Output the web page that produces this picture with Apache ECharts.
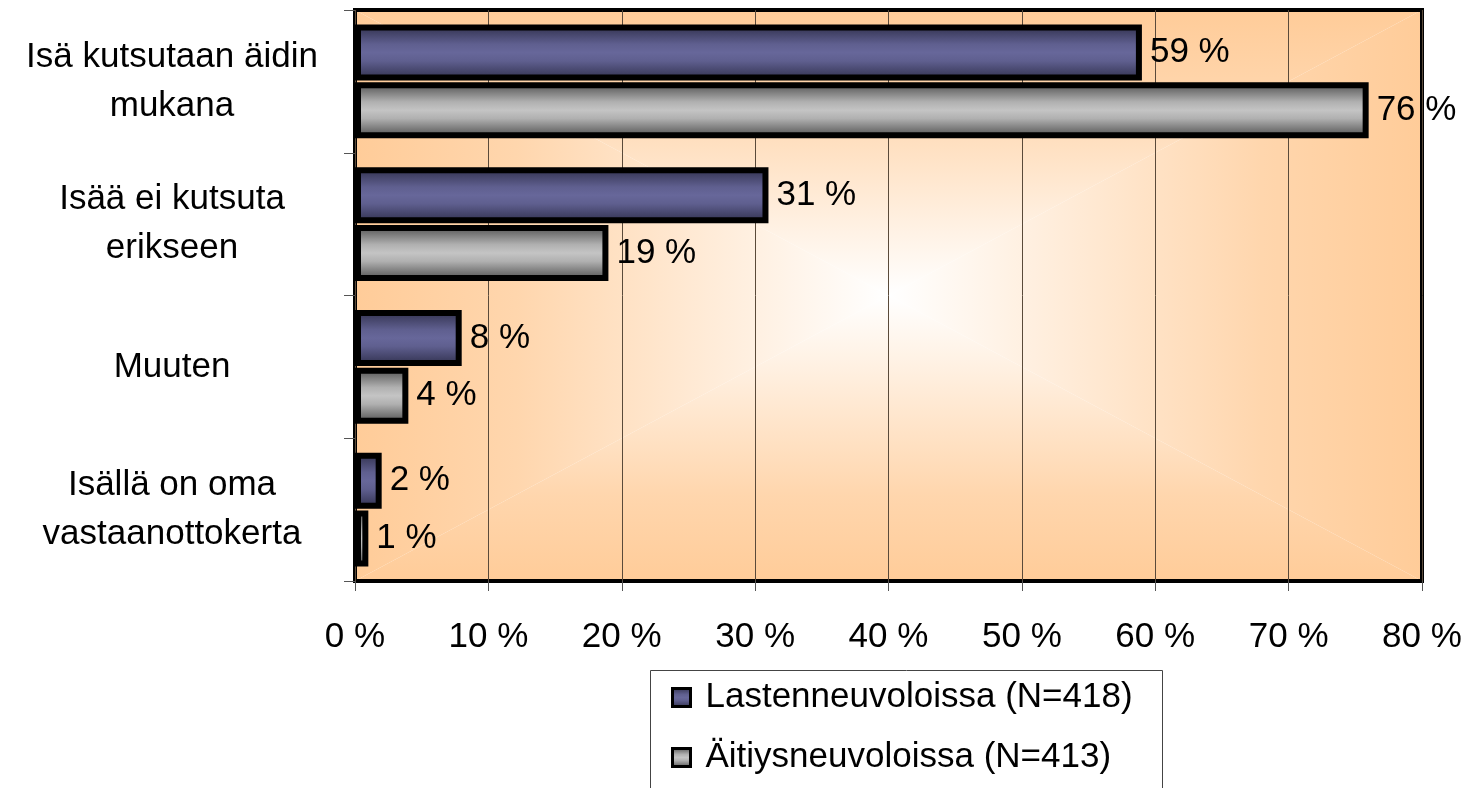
<!DOCTYPE html>
<html>
<head>
<meta charset="utf-8">
<script src="https://cdn.jsdelivr.net/npm/echarts@6/dist/echarts.min.js"></script>
<style>
html,body{margin:0;padding:0;background:#fff;}
#c{width:1466px;height:788px;}
</style>
</head>
<body>
<div id="c"></div>
<script>
const categories = ['Isä kutsutaan äidin\nmukana', 'Isää ei kutsuta\nerikseen', 'Muuten', 'Isällä on oma\nvastaanottokerta'];
const seriesNames = ['Lastenneuvoloissa (N=418)', 'Äitiysneuvoloissa (N=413)'];
const lastenValues = [59, 31, 8, 2];
const aitiysValues = [76, 19, 4, 1];
const xTicks = [0, 10, 20, 30, 40, 50, 60, 70, 80];

const chart = echarts.init(document.getElementById('c'));
const W = chart.getWidth(), H = chart.getHeight();
const gl = 355, gt = 10, gr = 44, gb = 207;
const x0 = gl, x1 = W - gr, y0 = gt, y1 = H - gb;
const cx = (x0 + x1) / 2, cy = (y0 + y1) / 2;
const ORANGE = '#FFCC99';
function grad(ax, ay, bx, by) {
  return new echarts.graphic.LinearGradient(ax, ay, bx, by, [
    {offset: 0, color: ORANGE},
    {offset: 0.3, color: '#FFD6AD'},
    {offset: 1, color: '#FFFFFF'}
  ], true);
}
const legendBox = {left: 650, top: 670, width: 512};
const bg = [
  {type: 'polygon', z: -10, silent: true, shape: {points: [[x0, y0], [x1, y0], [cx, cy]]}, style: {fill: grad(cx, y0, cx, cy)}},
  {type: 'polygon', z: -10, silent: true, shape: {points: [[x0, y1], [x1, y1], [cx, cy]]}, style: {fill: grad(cx, y1, cx, cy)}},
  {type: 'polygon', z: -10, silent: true, shape: {points: [[x0, y0], [x0, y1], [cx, cy]]}, style: {fill: grad(x0, cy, cx, cy)}},
  {type: 'polygon', z: -10, silent: true, shape: {points: [[x1, y0], [x1, y1], [cx, cy]]}, style: {fill: grad(x1, cy, cx, cy)}},
  {type: 'rect', z: -5, silent: true,
   shape: {x: legendBox.left + 0.5, y: legendBox.top + 0.5, width: legendBox.width, height: H},
   style: {fill: 'none', stroke: '#444', lineWidth: 1}}
];

const FONT = 'Liberation Sans, Arial, sans-serif';
const blueGrad = new echarts.graphic.LinearGradient(0, 0, 0, 1, [
  {offset: 0, color: '#2E2E4A'},
  {offset: 0.35, color: '#5F5F8F'},
  {offset: 0.5, color: '#67679A'},
  {offset: 0.65, color: '#5F5F8F'},
  {offset: 1, color: '#2E2E4A'}
]);
const grayGrad = new echarts.graphic.LinearGradient(0, 0, 0, 1, [
  {offset: 0, color: '#4A4A4A'},
  {offset: 0.35, color: '#B0B0B0'},
  {offset: 0.5, color: '#C4C4C4'},
  {offset: 0.65, color: '#B0B0B0'},
  {offset: 1, color: '#4A4A4A'}
]);

const labelCfg = {show: true, position: 'right', distance: 8, formatter: '{c} %', color: '#000', fontSize: 35, fontFamily: FONT};

chart.setOption({
  animation: false,
  backgroundColor: '#fff',
  graphic: bg,
  grid: {left: gl, top: gt, right: gr, bottom: gb, show: true, borderColor: '#000', borderWidth: 4, backgroundColor: 'transparent'},
  legend: {
    orient: 'vertical', left: legendBox.left, top: legendBox.top,
    padding: [10, 0, 0, 21], itemGap: 25,
    itemWidth: 18, itemHeight: 18, icon: 'rect',
    itemStyle: {borderColor: '#000', borderWidth: 3},
    textStyle: {fontSize: 35, lineHeight: 35, fontFamily: FONT, color: '#000', padding: [0, 0, 0, 10]},
    data: seriesNames
  },
  xAxis: {
    type: 'value', min: 0, max: 80, interval: 10,
    axisLine: {show: false},
    axisTick: {show: true, length: 10, lineStyle: {color: '#555', width: 1}},
    splitLine: {show: true, lineStyle: {color: '#5a4a3a', width: 1}},
    axisLabel: {margin: 39, fontSize: 35, fontFamily: FONT, color: '#000',
      formatter: v => xTicks.includes(v) ? v + ' %' : ''}
  },
  yAxis: {
    type: 'category', data: categories, inverse: true,
    axisLine: {show: false},
    axisTick: {show: true, length: 11, lineStyle: {color: '#555', width: 1}},
    splitLine: {show: false},
    axisLabel: {margin: 183, align: 'center', fontSize: 35, lineHeight: 49, fontFamily: FONT, color: '#000'}
  },
  series: [
    {name: seriesNames[0], type: 'bar', data: lastenValues, barWidth: 56, barGap: '3%',
     itemStyle: {color: blueGrad, borderColor: '#000', borderWidth: 6}, label: labelCfg},
    {name: seriesNames[1], type: 'bar', data: aitiysValues, barWidth: 56, barGap: '3%',
     itemStyle: {color: grayGrad, borderColor: '#000', borderWidth: 6}, label: labelCfg}
  ]
});
</script>
</body>
</html>
